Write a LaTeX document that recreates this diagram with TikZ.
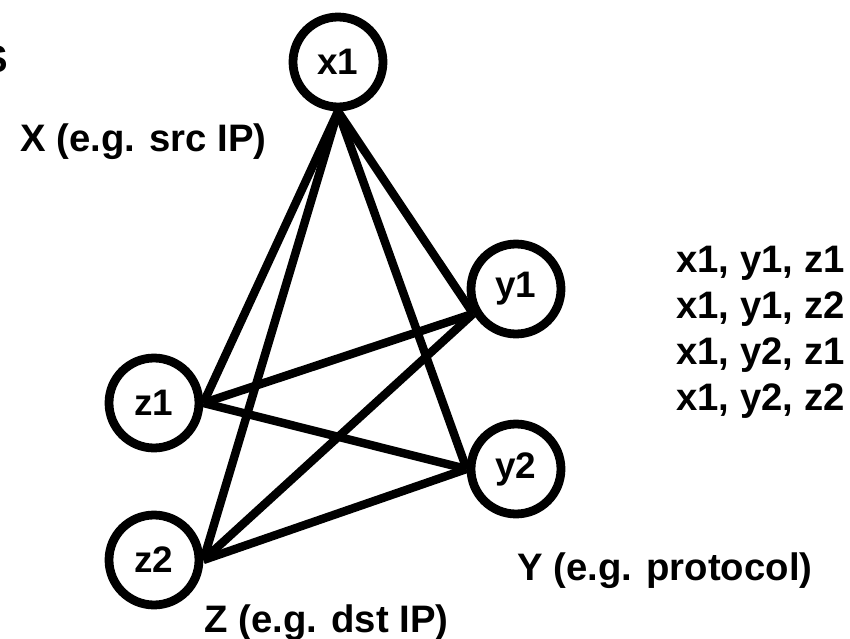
\documentclass[tikz,border=0pt]{standalone}
\usepackage{fontspec}
\setmainfont{Liberation Sans}
\usetikzlibrary{positioning}

\tikzset{
  vertex/.style={draw,circle,line width=5pt,minimum size=1.8cm,inner sep=0pt,
    font=\fontsize{21}{25}\selectfont\bfseries},
  edge/.style={line width=4.8pt},
  caption/.style={anchor=base west,inner sep=0pt,font=\fontsize{21.8}{26}\selectfont\bfseries}
}

\begin{document}
\begin{tikzpicture}[x=0.02cm,y=-0.02cm]
  \useasboundingbox (0,0) rectangle (850,639);

  % the five values
  \node[vertex] (x1) at (338,62) {x1};
  \node[vertex] (y1) at (516,289) {y1};
  \node[vertex] (y2) at (516,469) {y2};
  \node[vertex] (z1) at (154,403) {z1};
  \node[vertex] (z2) at (154,560) {z2};

  % edges between the attributes
  \draw[edge] (x1.south) -- (z1.east);
  \draw[edge] (x1.south) -- (z2.east);
  \draw[edge] (x1.south) -- (y1.210);
  \draw[edge] (x1.south) -- (y2.west);
  \draw[edge] (z1.east) -- (y1.210);
  \draw[edge] (z1.east) -- (y2.west);
  \draw[edge] (z2.east) -- (y1.210);
  \draw[edge] (z2.east) -- (y2.west);

  % attribute names
  \node[caption] (cut) at (-18,72) {S};
  \node[caption] (xname) at (20,152) {X (e.g. src IP)};
  \node[caption] (yname) at (517,580) {Y (e.g. protocol)};
  \node[caption] (zname) at (204,632) {Z (e.g. dst IP)};

  % the combinations
  \foreach \t [count=\i from 0] in {{x1, y1, z1},{x1, y1, z2},{x1, y2, z1},{x1, y2, z2}}
    \node[caption] (combo\i) at (676,272+46*\i) {\t};
\end{tikzpicture}
\end{document}
